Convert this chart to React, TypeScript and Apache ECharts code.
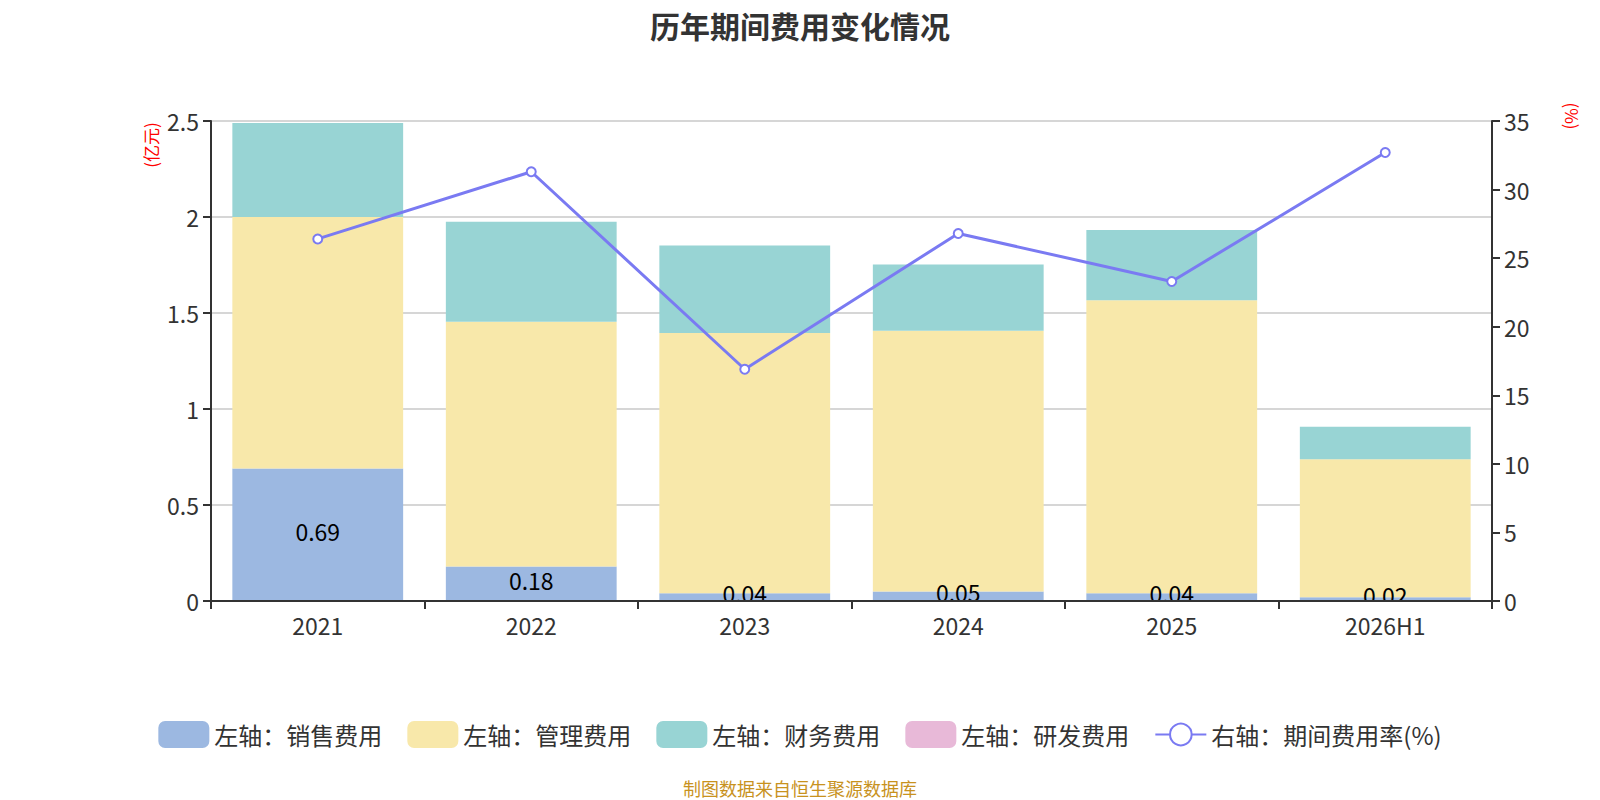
import React, { useEffect, useRef } from "react";
import * as echarts from "echarts";

const categories = ["2021", "2022", "2023", "2024", "2025", "2026H1"];
const salesExp = [0.69, 0.18, 0.04, 0.05, 0.04, 0.02];
const adminExp = [1.31, 1.275, 1.356, 1.357, 1.526, 0.718];
const financeExp = [0.49, 0.52, 0.456, 0.345, 0.366, 0.17];
const rdExp = [0, 0, 0, 0, 0, 0];
const expenseRate = [26.4, 31.3, 16.9, 26.8, 23.3, 32.7];
const leftTicks = [0, 0.5, 1, 1.5, 2, 2.5];
const rightTicks = [0, 5, 10, 15, 20, 25, 30, 35];

const FONT = "Noto Sans CJK SC";

export default function App() {
  const ref = useRef<HTMLDivElement>(null);
  useEffect(() => {
    document.body.style.margin = "0";
    const chart = echarts.init(ref.current!, null, { renderer: "svg" });
    const barLabelNone = { show: false };
    chart.setOption({
      animation: false,
      textStyle: { fontFamily: FONT },
      title: {
        text: "历年期间费用变化情况",
        left: "center",
        top: 5,
        textStyle: { fontSize: 30, fontWeight: "bold", color: "#333", fontFamily: FONT },
      },
      grid: { left: 211, right: 108, top: 121, bottom: 199 },
      legend: {
        top: 716,
        left: "center",
        itemWidth: 51,
        itemHeight: 27,
        itemGap: 25,
        textStyle: { fontSize: 24, color: "#333", fontFamily: FONT },
        data: [
          { name: "左轴：销售费用" },
          { name: "左轴：管理费用" },
          { name: "左轴：财务费用" },
          { name: "左轴：研发费用" },
          { name: "右轴：期间费用率(%)" },
        ],
      },
      xAxis: {
        type: "category",
        data: categories,
        z: 10,
        axisLine: { lineStyle: { color: "#333", width: 2 } },
        axisTick: { show: true, length: 8, lineStyle: { color: "#333", width: 2 } },
        axisLabel: {
          fontSize: 23,
          color: "#333",
          margin: 1,
          backgroundColor: "#fff",
          padding: [11, 6, 0, 6],
        },
      },
      yAxis: [
        {
          type: "value",
          min: 0,
          max: leftTicks[leftTicks.length - 1],
          interval: 0.5,
          axisLine: { show: true, lineStyle: { color: "#333", width: 2 } },
          axisTick: { show: true, length: 8, lineStyle: { color: "#333", width: 2 } },
          axisLabel: { fontSize: 23, color: "#333", margin: 12 },
          splitLine: { lineStyle: { color: "#c8c8c8", width: 1.5 } },
        },
        {
          type: "value",
          min: 0,
          max: rightTicks[rightTicks.length - 1],
          interval: 5,
          axisLine: { show: true, lineStyle: { color: "#333", width: 2 } },
          axisTick: { show: true, length: 8, lineStyle: { color: "#333", width: 2 } },
          axisLabel: { fontSize: 23, color: "#333", margin: 12 },
          splitLine: { show: false },
        },
      ],
      series: [
        {
          name: "左轴：销售费用",
          type: "bar",
          stack: "cost",
          barWidth: "80%",
          data: salesExp,
          itemStyle: { color: "#9cb8e1" },
          label: {
            show: true,
            position: "inside",
            offset: [0, -4],
            color: "#000",
            fontSize: 23,
            fontFamily: FONT,
          },
        },
        {
          name: "左轴：管理费用",
          type: "bar",
          stack: "cost",
          data: adminExp,
          itemStyle: { color: "#f8e8aa" },
          label: barLabelNone,
        },
        {
          name: "左轴：财务费用",
          type: "bar",
          stack: "cost",
          data: financeExp,
          itemStyle: { color: "#98d4d4" },
          label: barLabelNone,
        },
        {
          name: "左轴：研发费用",
          type: "bar",
          stack: "cost",
          data: rdExp,
          itemStyle: { color: "#e8b9d8" },
          label: barLabelNone,
        },
        {
          name: "右轴：期间费用率(%)",
          type: "line",
          yAxisIndex: 1,
          data: expenseRate,
          symbol: "emptyCircle",
          symbolSize: 9,
          lineStyle: { color: "#7a7af2", width: 3 },
          itemStyle: { color: "#7a7af2", borderWidth: 1.5 },
        },
      ],
      graphic: [
        {
          type: "text",
          x: 150,
          y: 145,
          rotation: Math.PI / 2,
          style: {
            text: "(亿元)",
            fill: "#ff0000",
            fontSize: 17,
            fontFamily: FONT,
            align: "center",
            verticalAlign: "middle",
          },
        },
        {
          type: "text",
          x: 1572,
          y: 116,
          rotation: -Math.PI / 2,
          style: {
            text: "(%)",
            fill: "#ff0000",
            fontSize: 17,
            fontFamily: FONT,
            align: "center",
            verticalAlign: "middle",
          },
        },
        {
          type: "text",
          left: "center",
          top: 779,
          style: {
            text: "制图数据来自恒生聚源数据库",
            fill: "#c8921e",
            fontSize: 18,
            fontFamily: FONT,
          },
        },
      ],
    });
    return () => chart.dispose();
  }, []);
  return <div ref={ref} style={{ width: 1600, height: 800 }} />;
}
